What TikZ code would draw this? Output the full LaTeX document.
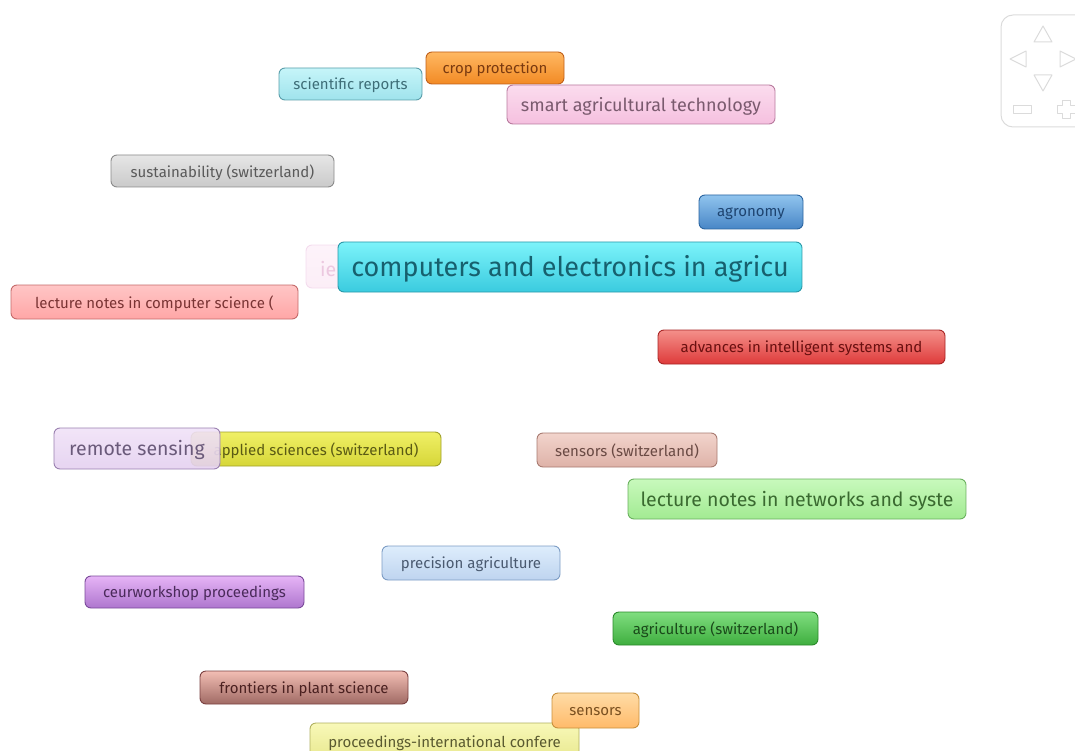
\documentclass[tikz,border=0pt]{standalone}
\usepackage{fontspec}
\setmainfont{Fira Sans}
\begin{document}
\begin{tikzpicture}[x=1pt,y=-1pt,
  jbox/.style={rounded corners=6pt, line width=0.9pt, inner sep=0pt, align=center},
  navline/.style={draw=black!14, line width=1pt, line join=round}]
\useasboundingbox (0,0) rectangle (1075,751);
\clip (0,0) rectangle (1075,751);
% #1 name, #2 l, #3 t, #4 r, #5 b, #6 top, #7 bottom, #8 border, #9 text colour
\newcommand{\jb}[9]{%
  \definecolor{tc#1}{HTML}{#6}\definecolor{bc#1}{HTML}{#7}\definecolor{dc#1}{HTML}{#8}\definecolor{xc#1}{HTML}{#9}%
  \node[jbox, top color=tc#1, bottom color=bc#1, draw=dc#1, text=xc#1,
    minimum width={#4-#2}, minimum height={#5-#3}] (#1) at ({(#2+#4)/2},{(#3+#5)/2})}
\newcommand{\fsm}[1]{\raisebox{-1.5pt}[\height][\depth]{\fontsize{15}{17}\selectfont #1}}
\newcommand{\fmd}[1]{\raisebox{-1.5pt}[\height][\depth]{\fontsize{18}{21}\selectfont #1}}
\newcommand{\fmdb}[1]{\raisebox{-1.5pt}[\height][\depth]{\fontsize{19.5}{22}\selectfont #1}}
\newcommand{\fbg}[1]{\raisebox{-1.5pt}[\height][\depth]{\fontsize{27}{31}\selectfont #1}}

\jb{sr}{279}{68}{422}{100}{C6F5F9}{9FE3EC}{5A9EAA}{3E6E78} {\fsm{scientific reports}};
\jb{cp}{426}{52}{564}{84}{FFB862}{F28A24}{C0601A}{7A3A10} {\fsm{crop protection}};
\jb{sat}{507}{85}{775}{124}{FBDCEE}{F5C0DF}{B87A9E}{7A5A6E} {\fmd{smart agricultural technology}};
\jb{sus}{111}{155}{334}{187}{E6E6E6}{CACACA}{8A8A8A}{5A5A5A} {\fsm{sustainability (switzerland)}};
\jb{agr}{699}{195}{803}{229}{90C4EE}{4886C6}{2A64A0}{1E4470} {\fsm{agronomy}};
\jb{ie}{306}{245}{380}{288}{FDF3FA}{FCEEF7}{F4DCEE}{ECC8E0} {};
\node[anchor=west, inner sep=0pt] (iet) at (320,268) {\fmdb{\color[HTML]{ECC8E0}ie}};
\jb{cea}{338}{242}{802}{292}{7CF3FA}{3ACBDF}{2A98A8}{17606E} {\fbg{computers and electronics in agricu}};
\jb{lncs}{11}{285}{298}{319}{FFC6C6}{FFA6A6}{C46A6A}{7A3434} {\fsm{lecture notes in computer science (}};
\jb{adv}{658}{330}{945}{364}{F4908A}{DE3A3A}{A82424}{6A1010} {\fsm{advances in intelligent systems and}};
\jb{app}{191}{432}{441}{466}{F0F066}{D6D638}{A0A02A}{5A5A14} {\fsm{applied sciences (switzerland)}};
\begin{scope}[every node/.append style={fill opacity=0.9, text opacity=1}]
\jb{rs}{54}{428}{220}{469}{F0E2F7}{E4D0F0}{9A80B0}{6A5A7A} {\fmdb{remote sensing}};
\end{scope}
\jb{ssw}{537}{433}{717}{467}{F2D4CC}{DEB2A8}{A87A70}{6A4A44} {\fsm{sensors (switzerland)}};
\jb{lnns}{628}{479}{966}{519}{C8F9BC}{A2EA92}{6AB05E}{3A6A30} {\fmdb{lecture notes in networks and syste}};
\jb{pa}{382}{546}{560}{580}{DEEDFC}{BED4EF}{7C9CC4}{4A5A70} {\fsm{precision agriculture}};
\jb{ceur}{85}{576}{304}{608}{E6B4F6}{AE76CE}{7A4A9A}{4A2A5A} {\fsm{ceurworkshop proceedings}};
\jb{ach}{613}{612}{818}{645}{80DE80}{3EAE3E}{2A8A2A}{1A4A1A} {\fsm{agriculture (switzerland)}};
\jb{fps}{200}{671}{408}{704}{F2BEB4}{A06A64}{7A4040}{4A2020} {\fsm{frontiers in plant science}};
\jb{pic}{310}{723}{579}{760}{F8F8B8}{E8E88E}{B0B060}{5A5A30} {\fsm{proceedings-international confere}};
\jb{sen}{552}{693}{639}{728}{FFDCA6}{FFBA6A}{C8903C}{7A5020} {\fsm{sensors}};

% navigation widget
\coordinate (navtl) at (1001,15);
\coordinate (navbr) at (1100,127);
\draw[navline, rounded corners=12pt] (navtl) rectangle (navbr);
\coordinate (up1) at (1043,26); \coordinate (up2) at (1052,42); \coordinate (up3) at (1034,42);
\draw[navline] (up1) -- (up2) -- (up3) -- cycle;
\coordinate (lf1) at (1010,59); \coordinate (lf2) at (1026,51); \coordinate (lf3) at (1026,67);
\draw[navline] (lf1) -- (lf2) -- (lf3) -- cycle;
\coordinate (rt1) at (1076,59); \coordinate (rt2) at (1060,51); \coordinate (rt3) at (1060,67);
\draw[navline] (rt1) -- (rt2) -- (rt3) -- cycle;
\coordinate (dn1) at (1043,91); \coordinate (dn2) at (1052,75); \coordinate (dn3) at (1034,75);
\draw[navline] (dn1) -- (dn2) -- (dn3) -- cycle;
\coordinate (mi1) at (1013,106); \coordinate (mi2) at (1031,114);
\draw[navline] (mi1) rectangle (mi2);
\draw[navline] (1062,101) -- (1070,101) -- (1070,106) -- (1075,106) -- (1075,114) -- (1070,114) -- (1070,119) -- (1062,119) -- (1062,114) -- (1057,114) -- (1057,106) -- (1062,106) -- cycle;
\end{tikzpicture}
\end{document}
